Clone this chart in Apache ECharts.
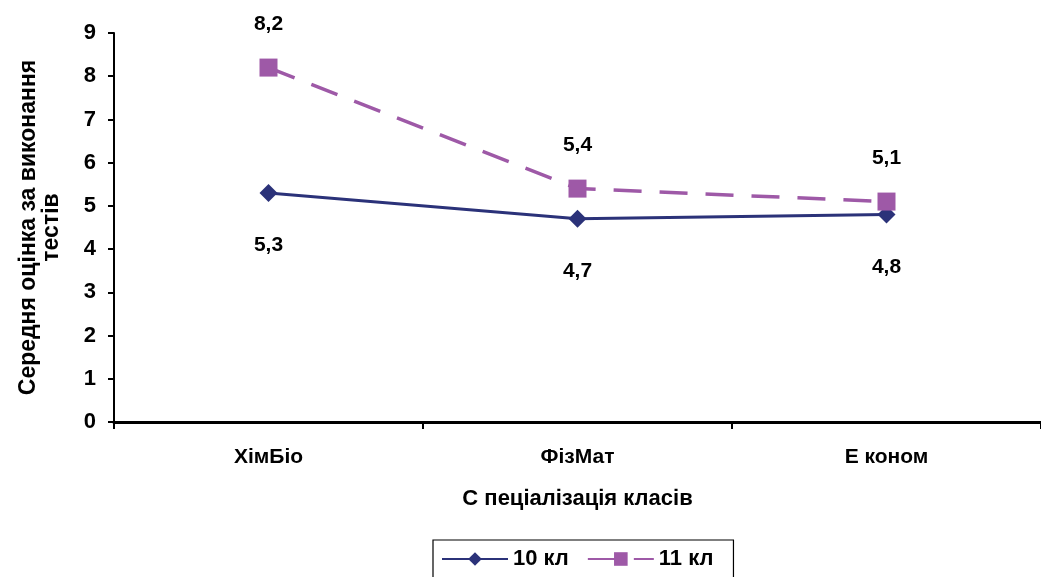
<!DOCTYPE html>
<html>
<head>
<meta charset="utf-8">
<script src="https://cdn.jsdelivr.net/npm/echarts@6/dist/echarts.min.js"></script>
<style>
  html, body { margin: 0; padding: 0; background: #ffffff; }
  #chart { width: 1041px; height: 577px; }
</style>
</head>
<body>
<div id="chart"></div>
<script>
// Class specialisations along the x axis
const categories = ['ХімБіо', 'ФізМат', 'Е коном'];
// Mean test scores per grade
const grade10 = [5.3, 4.7, 4.8];
const grade11 = [8.2, 5.4, 5.1];
const seriesNames = ['10 кл', '11 кл'];
const yTicks = { min: 0, max: 9, interval: 1 };

const FONT = '"Liberation Sans", Arial, sans-serif';
const NAVY = '#2B3279';
const PURPLE = '#9E59A7';

// Decimal comma for value labels
const fmt = p => String(p.value).replace('.', ',');

const chart = echarts.init(document.getElementById('chart'), null, { renderer: 'canvas' });
chart.setOption({
  backgroundColor: '#ffffff',
  animation: false,
  textStyle: { fontFamily: FONT },
  grid: { left: 114, top: 33, bottom: 155, width: 940 },
  legend: {
    left: 433,
    top: 540,
    padding: [8, 20, 12, 8],
    borderColor: '#000',
    borderWidth: 1.2,
    itemGap: 18,
    itemWidth: 66,
    itemHeight: 17,
    textStyle: { fontFamily: FONT, fontSize: 22, fontWeight: 'bold', color: '#000' },
    data: seriesNames
  },
  xAxis: {
    type: 'category',
    data: categories,
    boundaryGap: true,
    name: 'С пеціалізація класів',
    nameLocation: 'middle',
    nameGap: 66,
    nameTextStyle: { fontFamily: FONT, fontSize: 22, fontWeight: 'bold', color: '#000' },
    axisLine: { lineStyle: { color: '#000', width: 3 } },
    axisTick: { show: true, interval: 0, length: 7, lineStyle: { color: '#000', width: 2 } },
    axisLabel: { fontFamily: FONT, fontSize: 21, fontWeight: 'bold', color: '#000', margin: 25 },
    splitLine: { show: false }
  },
  yAxis: {
    type: 'value',
    min: yTicks.min,
    max: yTicks.max,
    interval: yTicks.interval,
    name: 'Середня оцінка за виконання\nтестів',
    nameLocation: 'middle',
    nameRotate: 90,
    nameGap: 51,
    nameTextStyle: { fontFamily: FONT, fontSize: 23, fontWeight: 'bold', color: '#000', lineHeight: 23 },
    axisLine: { show: true, lineStyle: { color: '#000', width: 2 } },
    axisTick: { show: true, length: 6, lineStyle: { color: '#000', width: 2 } },
    axisLabel: { fontFamily: FONT, fontSize: 22, fontWeight: 'bold', color: '#000', margin: 18 },
    splitLine: { show: false }
  },
  series: [
    {
      name: seriesNames[0],
      type: 'line',
      data: grade10,
      color: NAVY,
      symbol: 'diamond',
      symbolSize: 18,
      lineStyle: { color: NAVY, width: 3 },
      itemStyle: { color: NAVY },
      label: {
        show: true, position: 'bottom', distance: 33, formatter: fmt,
        fontFamily: FONT, fontSize: 21, fontWeight: 'bold', color: '#000'
      },
      z: 3
    },
    {
      name: seriesNames[1],
      type: 'line',
      data: grade11,
      color: PURPLE,
      symbol: 'rect',
      symbolSize: 18,
      lineStyle: { color: PURPLE, width: 3.5, type: [28, 18] },
      itemStyle: { color: PURPLE },
      label: {
        show: true, position: 'top', distance: 24, formatter: fmt,
        fontFamily: FONT, fontSize: 21, fontWeight: 'bold', color: '#000'
      },
      z: 4
    }
  ]
});
</script>
</body>
</html>
